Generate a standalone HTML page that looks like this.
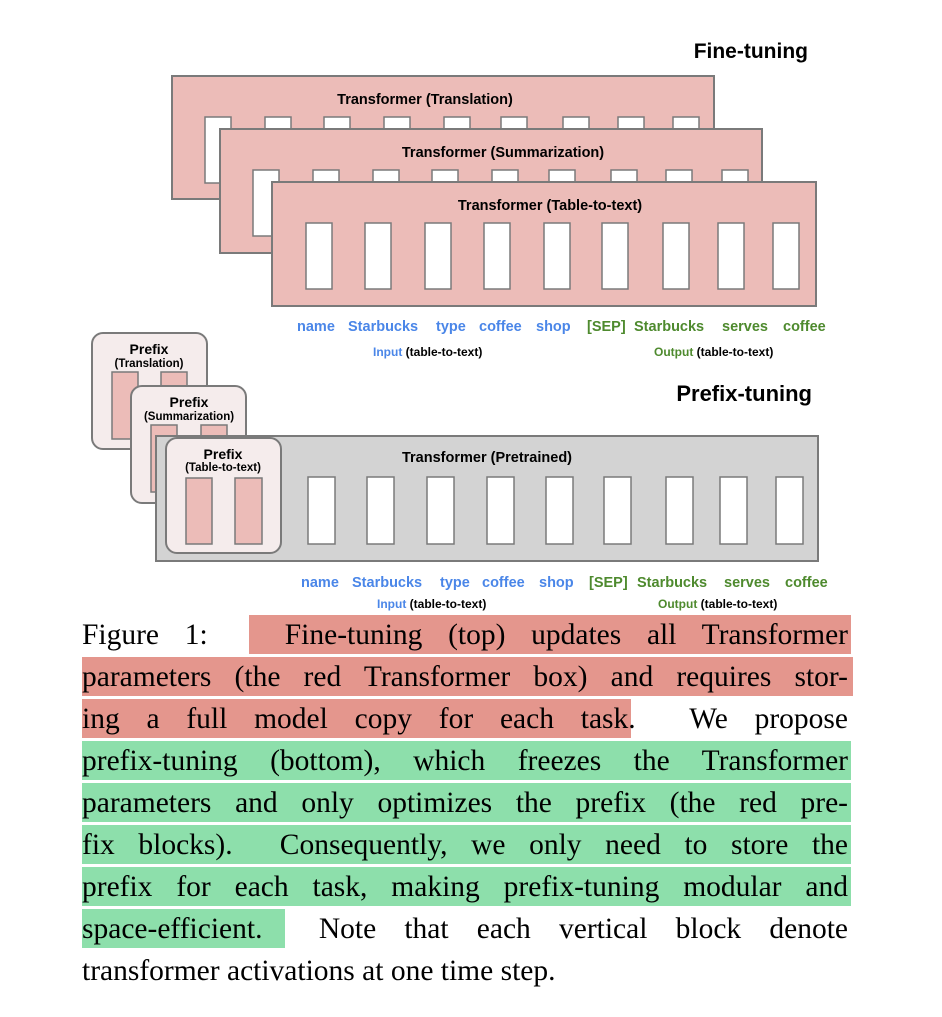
<!DOCTYPE html>
<html><head><meta charset="utf-8"><style>
body{margin:0;background:#fff;width:942px;height:1017px;position:relative;overflow:hidden}
svg{position:absolute;left:0;top:0}
.cap{position:absolute;left:82px;width:766px;height:40px;line-height:40px;font-family:"Liberation Serif",serif;font-size:29.5px;color:#000;text-align:justify;text-align-last:justify;white-space:nowrap}
.last{text-align-last:left}
.hl{position:absolute;height:39px}
.r{background:#e4968d}.g{background:#8ddfab}
</style></head><body>
<div class="hl r" style="left:249px;top:615px;width:602px"></div>
<div class="hl r" style="left:82px;top:657px;width:771px"></div>
<div class="hl r" style="left:82px;top:699px;width:549px"></div>
<div class="hl g" style="left:82px;top:741px;width:769px"></div>
<div class="hl g" style="left:82px;top:783px;width:769px"></div>
<div class="hl g" style="left:82px;top:825px;width:769px"></div>
<div class="hl g" style="left:82px;top:867px;width:769px"></div>
<div class="hl g" style="left:82px;top:909px;width:203px"></div>
<svg width="942" height="1017" viewBox="0 0 942 1017" font-family="Liberation Sans, sans-serif" font-weight="bold">
<text x="808" y="58" font-size="21" text-anchor="end">Fine-tuning</text>
<g stroke="#7a7a7a" stroke-width="2">
<rect x="172" y="76" width="542" height="123" fill="#ecbcb8"/>
<g fill="#fff" stroke-width="1.5">
<rect x="205" y="117" width="26" height="66"/>
<rect x="265" y="117" width="26" height="20"/><rect x="324" y="117" width="26" height="20"/><rect x="384" y="117" width="26" height="20"/><rect x="444" y="117" width="26" height="20"/><rect x="501" y="117" width="26" height="20"/><rect x="563" y="117" width="26" height="20"/><rect x="618" y="117" width="26" height="20"/><rect x="673" y="117" width="26" height="20"/>
</g>
<rect x="220" y="129" width="542" height="124" fill="#ecbcb8"/>
<g fill="#fff" stroke-width="1.5">
<rect x="253" y="170" width="26" height="66"/>
<rect x="313" y="170" width="26" height="20"/><rect x="373" y="170" width="26" height="20"/><rect x="432" y="170" width="26" height="20"/><rect x="492" y="170" width="26" height="20"/><rect x="549" y="170" width="26" height="20"/><rect x="611" y="170" width="26" height="20"/><rect x="666" y="170" width="26" height="20"/><rect x="722" y="170" width="26" height="20"/>
</g>
<rect x="272" y="182" width="544" height="124" fill="#ecbcb8"/>
<g fill="#fff" stroke-width="1.5">
<rect x="306" y="223" width="26" height="66"/><rect x="365" y="223" width="26" height="66"/><rect x="425" y="223" width="26" height="66"/><rect x="484" y="223" width="26" height="66"/><rect x="544" y="223" width="26" height="66"/><rect x="602" y="223" width="26" height="66"/><rect x="663" y="223" width="26" height="66"/><rect x="718" y="223" width="26" height="66"/><rect x="773" y="223" width="26" height="66"/>
</g>
</g>
<g font-size="14.5" text-anchor="middle">
<text x="425" y="104">Transformer (Translation)</text>
<text x="503" y="157">Transformer (Summarization)</text>
<text x="550" y="210">Transformer (Table-to-text)</text>
</g>
<g font-size="14.5">
<g fill="#4a86e8"><text x="297" y="331">name</text><text x="348" y="331">Starbucks</text><text x="436" y="331">type</text><text x="479" y="331">coffee</text><text x="536" y="331">shop</text></g>
<g fill="#4e8a2e"><text x="587" y="331">[SEP]</text><text x="634" y="331">Starbucks</text><text x="722" y="331">serves</text><text x="783" y="331">coffee</text></g>
</g>
<g font-size="12">
<text x="373" y="356"><tspan fill="#4a86e8">Input</tspan> (table-to-text)</text>
<text x="654" y="356"><tspan fill="#4e8a2e">Output</tspan> (table-to-text)</text>
</g>
<text x="812" y="401" font-size="22" text-anchor="end">Prefix-tuning</text>
<g stroke="#7a7a7a" stroke-width="2">
<rect x="92" y="333" width="115" height="116" rx="11" fill="#f5ecec"/>
<rect x="112" y="372" width="26" height="67" fill="#ecbcb8" stroke-width="1.5"/>
<rect x="161" y="372" width="26" height="67" fill="#ecbcb8" stroke-width="1.5"/>
<rect x="131" y="386" width="115" height="117" rx="11" fill="#f5ecec"/>
<rect x="151" y="425" width="26" height="67" fill="#ecbcb8" stroke-width="1.5"/>
<rect x="201" y="425" width="26" height="67" fill="#ecbcb8" stroke-width="1.5"/>
<rect x="156" y="436" width="662" height="125" fill="#d3d3d3"/>
<rect x="166" y="438" width="115" height="115" rx="11" fill="#f5ecec"/>
<rect x="186" y="478" width="26" height="66" fill="#ecbcb8" stroke-width="1.5"/>
<rect x="235" y="478" width="27" height="66" fill="#ecbcb8" stroke-width="1.5"/>
<g fill="#fff" stroke-width="1.5">
<rect x="308" y="477" width="27" height="67"/><rect x="367" y="477" width="27" height="67"/><rect x="427" y="477" width="27" height="67"/><rect x="487" y="477" width="27" height="67"/><rect x="546" y="477" width="27" height="67"/><rect x="604" y="477" width="27" height="67"/><rect x="666" y="477" width="27" height="67"/><rect x="720" y="477" width="27" height="67"/><rect x="776" y="477" width="27" height="67"/>
</g>
</g>
<g text-anchor="middle">
<text x="149" y="354" font-size="14">Prefix</text><text x="149" y="367" font-size="11.5">(Translation)</text>
<text x="189" y="407" font-size="14">Prefix</text><text x="189" y="420" font-size="11.5">(Summarization)</text>
<text x="223" y="459" font-size="14">Prefix</text><text x="223" y="471" font-size="11.5">(Table-to-text)</text>
<text x="487" y="462" font-size="14.5">Transformer  (Pretrained)</text>
</g>
<g font-size="14.5">
<g fill="#4a86e8"><text x="301" y="587">name</text><text x="352" y="587">Starbucks</text><text x="440" y="587">type</text><text x="482" y="587">coffee</text><text x="539" y="587">shop</text></g>
<g fill="#4e8a2e"><text x="589" y="587">[SEP]</text><text x="637" y="587">Starbucks</text><text x="724" y="587">serves</text><text x="785" y="587">coffee</text></g>
</g>
<g font-size="12">
<text x="377" y="608"><tspan fill="#4a86e8">Input</tspan> (table-to-text)</text>
<text x="658" y="608"><tspan fill="#4e8a2e">Output</tspan> (table-to-text)</text>
</g>
</svg>
<div class="cap" style="top:615px">Figure 1: &nbsp;&nbsp;Fine-tuning (top) updates all Transformer</div>
<div class="cap" style="top:657px">parameters (the red Transformer box) and requires stor-</div>
<div class="cap" style="top:699px">ing a full model copy for each task. &nbsp;We propose</div>
<div class="cap" style="top:741px">prefix-tuning (bottom), which freezes the Transformer</div>
<div class="cap" style="top:783px">parameters and only optimizes the prefix (the red pre-</div>
<div class="cap" style="top:825px">fix blocks). &nbsp;Consequently, we only need to store the</div>
<div class="cap" style="top:867px">prefix for each task, making prefix-tuning modular and</div>
<div class="cap" style="top:909px">space-efficient. &nbsp;Note that each vertical block denote</div>
<div class="cap last" style="top:951px">transformer activations at one time step.</div>
</body></html>
